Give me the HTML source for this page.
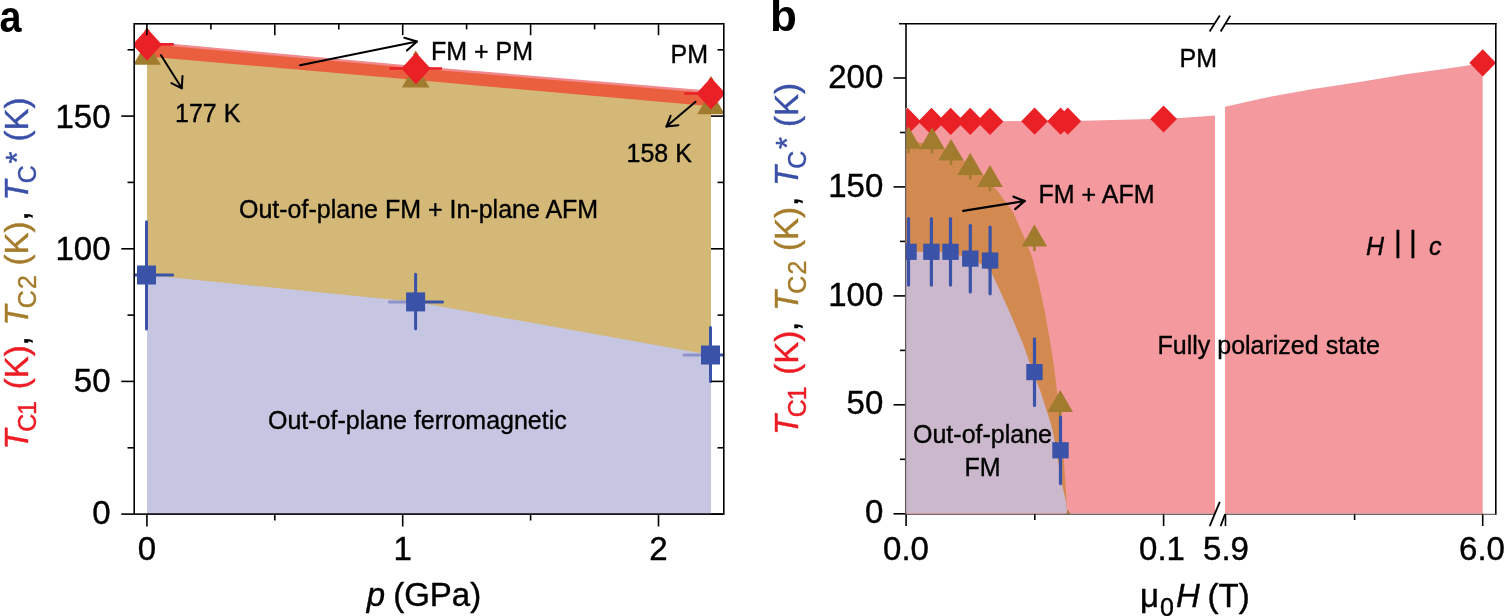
<!DOCTYPE html>
<html><head><meta charset="utf-8"><title>Phase diagram</title>
<style>html,body{margin:0;padding:0;background:#fff;width:1505px;height:616px;overflow:hidden}svg{display:block}</style>
</head><body>
<svg width="1505" height="616" viewBox="0 0 1505 616" font-family='"Liberation Sans", Arial, Helvetica, sans-serif'>
<rect x="0" y="0" width="1505" height="616" fill="#ffffff"/>
<defs><clipPath id="ca"><rect x="134.2" y="23.8" width="589.6" height="490.3"/></clipPath></defs><g clip-path="url(#ca)">
<polygon fill="#f08a8e" points="147.0,41.6 416.0,65.9 711.0,90.7 711.0,109.3 416.0,83.0 147.0,59.4"/>
<polygon fill="#ea603e" points="147.0,44.0 416.0,68.3 711.0,93.3 711.0,109.3 416.0,83.0 147.0,59.4"/>
<polygon fill="#d3b878" points="147.0,56.4 416.0,80.0 711.0,106.3 711.0,358.0 416.0,305.0 147.0,278.0"/>
<polygon fill="#c6c6e3" points="147.0,275.0 416.0,302.0 711.0,355.0 711.0,514.1 147.0,514.1"/>
<g stroke="#3a52a8" stroke-width="3" stroke-linecap="round">
<line x1="146.5" y1="221.8" x2="146.5" y2="329"/>
<line x1="146.5" y1="275" x2="172.7" y2="275"/>
<line x1="415.6" y1="274.3" x2="415.6" y2="328.8"/>
<line x1="415.6" y1="301.9" x2="442.5" y2="301.9"/>
<line x1="710.5" y1="327.5" x2="710.5" y2="381.6"/>
<line x1="710.5" y1="355" x2="723" y2="355"/>
</g>
<g stroke="#8e93c9" stroke-width="3" stroke-linecap="round">
<line x1="135" y1="275" x2="140" y2="275" stroke="#3a52a8" stroke-width="3"/>
<line x1="389.3" y1="301.9" x2="406.6" y2="301.9"/>
<line x1="684" y1="355" x2="701.5" y2="355"/>
</g>
<rect x="137.0" y="265.5" width="19" height="19" fill="#3a52a8"/>
<rect x="406.1" y="292.4" width="19" height="19" fill="#3a52a8"/>
<rect x="701.0" y="345.5" width="19" height="19" fill="#3a52a8"/>
<polygon fill="#a27c2e" points="144.0,31.5 150.0,31.5 147.0,27.0"/>
<polygon fill="#a27c2e" points="412.7,55.0 418.7,55.0 415.7,50.5"/>
<polygon fill="#a27c2e" points="708.0,80.4 714.0,80.4 711.0,75.9"/>
<polygon fill="#a27c2e" points="133.2,64.8 160.8,64.8 147.0,40.8"/>
<polygon fill="#a27c2e" points="401.9,87.6 429.5,87.6 415.7,63.6"/>
<polygon fill="#a27c2e" points="697.2,114.3 724.8,114.3 711.0,90.3"/>
<g stroke="#ea2027" stroke-width="2.6">
<line x1="134.5" y1="44.4" x2="173.8" y2="44.4"/>
<line x1="389.3" y1="68.5" x2="442" y2="68.5"/>
<line x1="684.3" y1="93.5" x2="723" y2="93.5"/>
</g>
<polygon fill="#ea2027" points="147.2,28.5 161.8,44.6 147.2,60.7 132.6,44.6"/>
<polygon fill="#ea2027" points="416.0,52.4 430.6,68.5 416.0,84.6 401.4,68.5"/>
<polygon fill="#ea2027" points="711.0,77.4 725.6,93.5 711.0,109.6 696.4,93.5"/>
</g>
<g stroke="#000" stroke-width="1.6" fill="none">
<rect x="134.2" y="23.8" width="589.6" height="490.3"/>
<line x1="121.3" y1="514.1" x2="134.2" y2="514.1"/>
<line x1="711" y1="514.1" x2="723.8" y2="514.1"/>
<line x1="121.3" y1="381.4" x2="134.2" y2="381.4"/>
<line x1="711" y1="381.4" x2="723.8" y2="381.4"/>
<line x1="121.3" y1="248.8" x2="134.2" y2="248.8"/>
<line x1="711" y1="248.8" x2="723.8" y2="248.8"/>
<line x1="121.3" y1="116.1" x2="134.2" y2="116.1"/>
<line x1="711" y1="116.1" x2="723.8" y2="116.1"/>
<line x1="127.5" y1="447.8" x2="134.2" y2="447.8"/>
<line x1="717.5" y1="447.8" x2="723.8" y2="447.8"/>
<line x1="127.5" y1="315.1" x2="134.2" y2="315.1"/>
<line x1="717.5" y1="315.1" x2="723.8" y2="315.1"/>
<line x1="127.5" y1="182.4" x2="134.2" y2="182.4"/>
<line x1="717.5" y1="182.4" x2="723.8" y2="182.4"/>
<line x1="127.5" y1="49.8" x2="134.2" y2="49.8"/>
<line x1="717.5" y1="49.8" x2="723.8" y2="49.8"/>
<line x1="146.9" y1="514.1" x2="146.9" y2="526.5"/>
<line x1="402.7" y1="514.1" x2="402.7" y2="526.5"/>
<line x1="658.5" y1="514.1" x2="658.5" y2="526.5"/>
<line x1="274.8" y1="514.1" x2="274.8" y2="520.5"/>
<line x1="530.6" y1="514.1" x2="530.6" y2="520.5"/>
<line x1="146.9" y1="23.8" x2="146.9" y2="35.2"/>
<line x1="274.8" y1="23.8" x2="274.8" y2="35.2"/>
<line x1="402.7" y1="23.8" x2="402.7" y2="35.2"/>
<line x1="530.6" y1="23.8" x2="530.6" y2="35.2"/>
<line x1="658.5" y1="23.8" x2="658.5" y2="35.2"/>
<line x1="210.9" y1="23.8" x2="210.9" y2="29.4"/>
<line x1="338.8" y1="23.8" x2="338.8" y2="29.4"/>
<line x1="466.6" y1="23.8" x2="466.6" y2="29.4"/>
<line x1="594.6" y1="23.8" x2="594.6" y2="29.4"/>
</g>
<g stroke="#000" stroke-width="2.0" fill="none" stroke-linecap="round" stroke-linejoin="round"><line x1="300" y1="65.2" x2="417" y2="41.5"/><polyline points="404.3,37.8 417,41.5 406.9,50.5"/></g>
<g stroke="#000" stroke-width="2.0" fill="none" stroke-linecap="round" stroke-linejoin="round"><line x1="161" y1="55.2" x2="181.8" y2="88.3"/><polyline points="171.4,83.1 181.8,88.3 182.5,76"/></g>
<g stroke="#000" stroke-width="2.0" fill="none" stroke-linecap="round" stroke-linejoin="round"><line x1="695.6" y1="101.8" x2="666.4" y2="126.5"/><polyline points="670.6,115.8 666.4,126.5 678.4,125.2"/></g>
<g font-size="25" fill="#000" stroke="#000" stroke-width="0.35">
<text x="431" y="60.1">FM + PM</text>
<text x="670.5" y="63.4">PM</text>
<text x="175" y="122.1">177 K</text>
<text x="626.5" y="161.8">158 K</text>
<text x="239" y="217.8">Out-of-plane FM + In-plane AFM</text>
<text x="268" y="429.3">Out-of-plane ferromagnetic</text>
</g>
<g font-size="33" fill="#000" stroke="#000" stroke-width="0.4" text-anchor="end">
<text x="110.5" y="523.6">0</text>
<text x="110.5" y="392.0">50</text>
<text x="110.5" y="259.6">100</text>
<text x="110.5" y="127.6">150</text>
</g>
<g font-size="33" fill="#000" stroke="#000" stroke-width="0.4" text-anchor="middle">
<text x="146.9" y="560.3">0</text>
<text x="402.7" y="560.3">1</text>
<text x="658.5" y="560.3">2</text>
</g>
<g font-size="33" fill="#000" stroke="#000" stroke-width="0.4"><text x="366.8" y="606.1" font-style="italic">p</text><text x="393.2" y="606.1">(GPa)</text></g>
<text x="-0.5" y="31.6" font-size="44" font-weight="bold" fill="#000" textLength="22" lengthAdjust="spacingAndGlyphs">a</text>
<text x="770" y="31.3" font-size="44" font-weight="bold" fill="#000">b</text>
<g transform="translate(27.8,446.6) rotate(-90)" font-size="33"><text x="-3" y="0" fill="#ed1c24" stroke="#ed1c24" stroke-width="0.4" font-style="italic" font-size="33">T</text><text x="14.9" y="8.5" fill="#ed1c24" stroke="#ed1c24" stroke-width="0.4" font-style="normal" font-size="25">C</text><text x="31.6" y="8.5" fill="#ed1c24" stroke="#ed1c24" stroke-width="0.4" font-style="normal" font-size="25">1</text><text x="57.3" y="0" fill="#ed1c24" stroke="#ed1c24" stroke-width="0.4" font-style="normal" font-size="33">(K)</text><text x="101.2" y="0" fill="#000" stroke="#000" stroke-width="0.4" font-style="normal" font-size="33">,</text><text x="121.1" y="0" fill="#a57c2b" stroke="#a57c2b" stroke-width="0.4" font-style="italic" font-size="33">T</text><text x="138.4" y="8.5" fill="#a57c2b" stroke="#a57c2b" stroke-width="0.4" font-style="normal" font-size="25">C</text><text x="157.6" y="8.5" fill="#a57c2b" stroke="#a57c2b" stroke-width="0.4" font-style="normal" font-size="25">2</text><text x="181" y="0" fill="#a57c2b" stroke="#a57c2b" stroke-width="0.4" font-style="normal" font-size="33">(K)</text><text x="226" y="0" fill="#000" stroke="#000" stroke-width="0.4" font-style="normal" font-size="33">,</text><text x="246" y="0" fill="#3a50a8" stroke="#3a50a8" stroke-width="0.4" font-style="italic" font-size="33">T</text><text x="263.4" y="8.5" fill="#3a50a8" stroke="#3a50a8" stroke-width="0.4" font-style="normal" font-size="25">C</text><text x="283.2" y="0" fill="#3a50a8" stroke="#3a50a8" stroke-width="0.4" font-style="normal" font-size="31">*</text><text x="305.2" y="0" fill="#3a50a8" stroke="#3a50a8" stroke-width="0.4" font-style="normal" font-size="33">(K)</text></g>
<g transform="translate(797.8,432.1) rotate(-90)" font-size="33"><text x="-3" y="0" fill="#ed1c24" stroke="#ed1c24" stroke-width="0.4" font-style="italic" font-size="33">T</text><text x="14.9" y="8.5" fill="#ed1c24" stroke="#ed1c24" stroke-width="0.4" font-style="normal" font-size="25">C</text><text x="31.6" y="8.5" fill="#ed1c24" stroke="#ed1c24" stroke-width="0.4" font-style="normal" font-size="25">1</text><text x="57.3" y="0" fill="#ed1c24" stroke="#ed1c24" stroke-width="0.4" font-style="normal" font-size="33">(K)</text><text x="101.2" y="0" fill="#000" stroke="#000" stroke-width="0.4" font-style="normal" font-size="33">,</text><text x="121.1" y="0" fill="#a57c2b" stroke="#a57c2b" stroke-width="0.4" font-style="italic" font-size="33">T</text><text x="138.4" y="8.5" fill="#a57c2b" stroke="#a57c2b" stroke-width="0.4" font-style="normal" font-size="25">C</text><text x="157.6" y="8.5" fill="#a57c2b" stroke="#a57c2b" stroke-width="0.4" font-style="normal" font-size="25">2</text><text x="181" y="0" fill="#a57c2b" stroke="#a57c2b" stroke-width="0.4" font-style="normal" font-size="33">(K)</text><text x="226" y="0" fill="#000" stroke="#000" stroke-width="0.4" font-style="normal" font-size="33">,</text><text x="246" y="0" fill="#3a50a8" stroke="#3a50a8" stroke-width="0.4" font-style="italic" font-size="33">T</text><text x="263.4" y="8.5" fill="#3a50a8" stroke="#3a50a8" stroke-width="0.4" font-style="normal" font-size="25">C</text><text x="283.2" y="0" fill="#3a50a8" stroke="#3a50a8" stroke-width="0.4" font-style="normal" font-size="31">*</text><text x="305.2" y="0" fill="#3a50a8" stroke="#3a50a8" stroke-width="0.4" font-style="normal" font-size="33">(K)</text></g>
<defs><clipPath id="cb"><rect x="906" y="23.8" width="589.8" height="490"/></clipPath></defs>
<g clip-path="url(#cb)">
<polygon fill="#f49a9e" points="906.0,121.4 1000.0,121.2 1083.0,120.7 1133.0,119.5 1180.0,117.9 1215.0,115.4 1215.0,514.0 906.0,514.0"/>
<polygon fill="#f49a9e" points="1225.0,106.7 1266.5,97.4 1313.0,89.1 1359.5,82.0 1406.0,74.2 1452.6,67.7 1469.3,65.3 1482.7,63.0 1482.7,514.0 1225.0,514.0"/>
<polygon fill="#d38a50" points="906.0,139.0 920.0,142.5 945.0,148.5 963.8,161.1 983.3,174.9 996.7,190.0 999.9,194.0 1005.5,202.0 1010.0,207.5 1014.1,214.0 1017.0,221.0 1021.0,230.0 1026.8,243.0 1032.3,258.0 1039.3,286.0 1045.3,314.0 1050.2,342.0 1054.5,370.0 1058.0,400.0 1061.0,430.0 1063.5,455.0 1065.2,480.0 1066.6,502.0 1067.5,512.9 906.0,512.9"/>
<polygon fill="#a27c2e" points="1067.8,509.7 1080.6,531.8 1055.0,531.8"/>
<polygon fill="#cbb8cc" points="906.0,251.5 945.0,252.3 960.0,255.5 972.0,259.0 980.0,263.5 987.0,268.5 992.0,274.0 994.0,278.0 997.8,286.0 1004.0,299.5 1010.5,314.0 1016.3,328.0 1022.3,342.0 1028.0,358.0 1034.8,377.5 1040.0,390.0 1045.2,406.0 1051.5,426.0 1055.5,445.0 1058.5,464.0 1061.0,480.0 1066.1,502.0 1067.3,512.9 906.0,512.9"/>
<polygon fill="#ea2027" points="907.5,107.8 920.9,121.4 907.5,135.0 894.1,121.4"/>
<polygon fill="#ea2027" points="931.5,107.8 944.9,121.4 931.5,135.0 918.1,121.4"/>
<polygon fill="#ea2027" points="950.7,107.8 964.1,121.4 950.7,135.0 937.3,121.4"/>
<polygon fill="#ea2027" points="970.2,107.8 983.6,121.4 970.2,135.0 956.8,121.4"/>
<polygon fill="#ea2027" points="990.0,107.8 1003.4,121.4 990.0,135.0 976.6,121.4"/>
<polygon fill="#ea2027" points="1034.6,107.6 1048.0,121.2 1034.6,134.8 1021.2,121.2"/>
<polygon fill="#ea2027" points="1060.6,107.6 1074.0,121.2 1060.6,134.8 1047.2,121.2"/>
<polygon fill="#ea2027" points="1067.8,107.6 1081.2,121.2 1067.8,134.8 1054.4,121.2"/>
<polygon fill="#ea2027" points="1163.6,105.4 1177.0,119.0 1163.6,132.6 1150.2,119.0"/>
<polygon fill="#ea2027" points="1482.7,49.2 1496.1,62.8 1482.7,76.4 1469.3,62.8"/>
<line x1="908.5" y1="145.8" x2="908.5" y2="153.20000000000002" stroke="#a27c2e" stroke-width="2.6"/>
<polygon fill="#a27c2e" points="895.7,148.8 921.3,148.8 908.5,126.5"/>
<line x1="932.1" y1="146.2" x2="932.1" y2="153.6" stroke="#a27c2e" stroke-width="2.6"/>
<polygon fill="#a27c2e" points="919.3,149.2 944.9,149.2 932.1,127.3"/>
<line x1="951" y1="157.6" x2="951" y2="165.0" stroke="#a27c2e" stroke-width="2.6"/>
<polygon fill="#a27c2e" points="938.2,160.6 963.8,160.6 951.0,139.1"/>
<line x1="970.2" y1="172" x2="970.2" y2="179.4" stroke="#a27c2e" stroke-width="2.6"/>
<polygon fill="#a27c2e" points="957.4,175.0 983.0,175.0 970.2,152.8"/>
<line x1="990" y1="183.9" x2="990" y2="191.3" stroke="#a27c2e" stroke-width="2.6"/>
<polygon fill="#a27c2e" points="977.2,186.9 1002.8,186.9 990.0,165.0"/>
<line x1="1034.4" y1="243.5" x2="1034.4" y2="250.9" stroke="#a27c2e" stroke-width="2.6"/>
<polygon fill="#a27c2e" points="1021.6,246.5 1047.2,246.5 1034.4,224.4"/>
<line x1="1060.2" y1="409.1" x2="1060.2" y2="416.5" stroke="#a27c2e" stroke-width="2.6"/>
<polygon fill="#a27c2e" points="1047.4,412.1 1073.0,412.1 1060.2,390.0"/>
<g stroke="#3a52a8" stroke-width="3.2" stroke-linecap="round">
<line x1="908.5" y1="218.5" x2="908.5" y2="285.1"/>
<line x1="931.4" y1="218.5" x2="931.4" y2="285.1"/>
<line x1="950.5" y1="218.5" x2="950.5" y2="285.1"/>
<line x1="970.3" y1="225.3" x2="970.3" y2="291.90000000000003"/>
<line x1="990.1" y1="227.2" x2="990.1" y2="293.8"/>
<line x1="1034.5" y1="338.8" x2="1034.5" y2="405.40000000000003"/>
<line x1="1060.5" y1="417.0" x2="1060.5" y2="483.6"/>
</g>
<rect x="900.3" y="243.70000000000002" width="16.4" height="16.2" fill="#3a52a8"/>
<rect x="923.1999999999999" y="243.70000000000002" width="16.4" height="16.2" fill="#3a52a8"/>
<rect x="942.3" y="243.70000000000002" width="16.4" height="16.2" fill="#3a52a8"/>
<rect x="962.0999999999999" y="250.50000000000003" width="16.4" height="16.2" fill="#3a52a8"/>
<rect x="981.9" y="252.4" width="16.4" height="16.2" fill="#3a52a8"/>
<rect x="1026.3" y="364.0" width="16.4" height="16.2" fill="#3a52a8"/>
<rect x="1052.3" y="442.2" width="16.4" height="16.2" fill="#3a52a8"/>
</g>
<g stroke="#000" stroke-width="1.6" fill="none">
<line x1="899" y1="23.8" x2="1214" y2="23.8"/>
<line x1="1226" y1="23.8" x2="1496.5" y2="23.8"/>
<line x1="1495.8" y1="23" x2="1495.8" y2="514.6"/>
<line x1="906" y1="23" x2="906" y2="108"/>
<line x1="893.5" y1="513.8" x2="906" y2="513.8"/>
<line x1="893.5" y1="404.8" x2="906" y2="404.8"/>
<line x1="893.5" y1="295.9" x2="906" y2="295.9"/>
<line x1="893.5" y1="186.9" x2="906" y2="186.9"/>
<line x1="893.5" y1="78.0" x2="906" y2="78.0"/>
<line x1="900" y1="459.3" x2="906" y2="459.3"/>
<line x1="900" y1="350.4" x2="906" y2="350.4"/>
<line x1="900" y1="241.4" x2="906" y2="241.4"/>
<line x1="900" y1="132.5" x2="906" y2="132.5"/>
<line x1="906.1" y1="513.8" x2="906.1" y2="526"/>
<line x1="1163.6" y1="513.8" x2="1163.6" y2="526"/>
<line x1="1225.5" y1="513.8" x2="1225.5" y2="526"/>
<line x1="1482.7" y1="513.8" x2="1482.7" y2="526"/>
<line x1="1034.8" y1="513.8" x2="1034.8" y2="520"/>
<line x1="1354.6" y1="513.8" x2="1354.6" y2="520"/>
</g>
<line x1="905.6" y1="108" x2="905.6" y2="514" stroke="#625c60" stroke-width="1.25"/>
<line x1="905" y1="514.3" x2="1215" y2="514.3" stroke="#4a4446" stroke-width="1.0"/>
<line x1="1225" y1="514.3" x2="1496.6" y2="514.3" stroke="#4a4446" stroke-width="1.0"/>
<g stroke="#000" stroke-width="1.8">
<line x1="1209.6" y1="31.5" x2="1219.8" y2="15.6"/>
<line x1="1220.6" y1="31.5" x2="1230.3" y2="15.6"/>
<line x1="1209.7" y1="526.1" x2="1219.8" y2="501.8"/>
<line x1="1220.6" y1="526.1" x2="1225" y2="514.4"/>
</g>
<g stroke="#000" stroke-width="2.3" fill="none" stroke-linecap="round" stroke-linejoin="round"><line x1="963.2" y1="210.8" x2="1024.6" y2="201"/><polyline points="1013.5,196.7 1024.6,201 1015.2,209.1"/></g>
<g font-size="25" fill="#000" stroke="#000" stroke-width="0.35">
<text x="1179.5" y="66.8">PM</text>
<text x="1038.5" y="202.5">FM + AFM</text>
<text x="1157.5" y="354.2">Fully polarized state</text>
<text x="982.5" y="442.8" text-anchor="middle">Out-of-plane</text>
<text x="982.5" y="476.4" text-anchor="middle">FM</text>
<text x="1366" y="254.8" font-style="italic">H</text>
<text x="1429" y="254.8" font-style="italic">c</text>
<text x="1398" y="251.5" font-size="30" text-anchor="middle">|</text>
<text x="1413" y="251.5" font-size="30" text-anchor="middle">|</text>
</g>
<g font-size="33" fill="#000" stroke="#000" stroke-width="0.4" text-anchor="end">
<text x="883.3" y="523.4">0</text>
<text x="883.3" y="414.4">50</text>
<text x="883.3" y="305.5">100</text>
<text x="883.3" y="196.5">150</text>
<text x="883.3" y="87.6">200</text>
</g>
<g font-size="33" fill="#000" stroke="#000" stroke-width="0.4" text-anchor="middle">
<text x="906" y="560.3">0.0</text>
<text x="1162" y="560.3">0.1</text>
<text x="1226" y="560.3">5.9</text>
<text x="1482" y="560.3">6.0</text>
</g>
<g font-size="33" fill="#000" stroke="#000" stroke-width="0.4"><text x="1140" y="607">μ</text><text x="1160" y="615.5" font-size="25">0</text><text x="1176" y="607" font-style="italic">H</text><text x="1207.5" y="607">(T)</text></g>
</svg>
</body></html>
